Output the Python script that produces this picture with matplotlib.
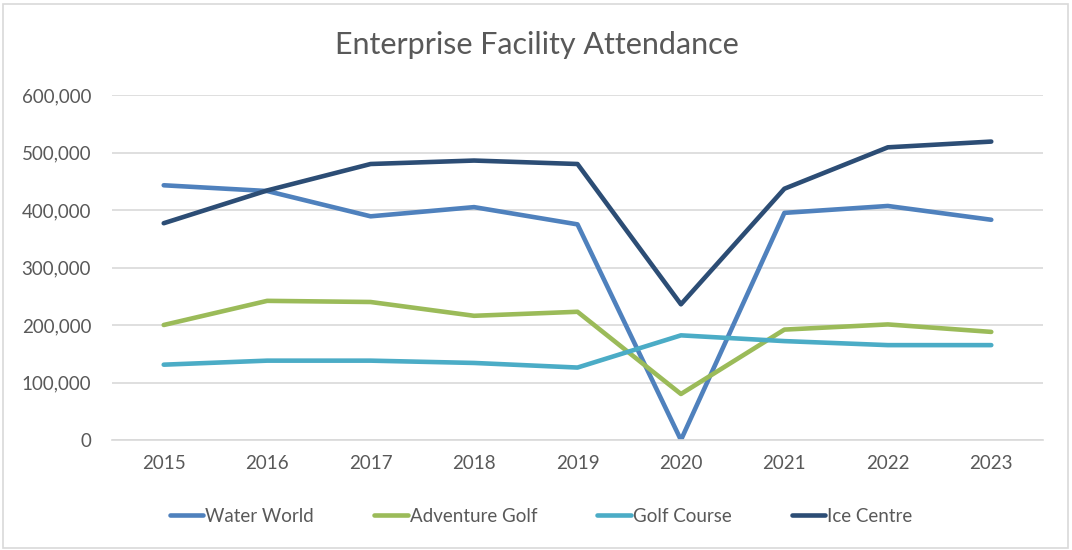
import matplotlib.pyplot as plt
from matplotlib.patches import Rectangle
from matplotlib.ticker import FuncFormatter

years = ['2015', '2016', '2017', '2018', '2019', '2020', '2021', '2022', '2023']
water_world = [443000, 433000, 389000, 405000, 375000, 0, 395000, 407000, 383000]
adventure_golf = [200000, 242000, 240000, 216000, 223000, 80000, 192000, 201000, 188000]
golf_course = [131000, 138000, 138000, 134000, 126000, 182000, 172000, 165000, 165000]
ice_centre = [377000, 434000, 480000, 486000, 480000, 236000, 437000, 509000, 519000]

series = [
    ('Water World', water_world, '#4F81BD'),
    ('Adventure Golf', adventure_golf, '#9BBB59'),
    ('Golf Course', golf_course, '#4BACC6'),
    ('Ice Centre', ice_centre, '#2C4D75'),
]

text_color = '#595959'
plt.rcParams['font.family'] = ['Lato', 'DejaVu Sans']

fig = plt.figure(figsize=(10.72, 5.5), dpi=100)
ax = fig.add_axes([112 / 1072, 1 - 440 / 550, 931 / 1072, 345 / 550])

# chart border
fig.patches.append(Rectangle((3 / 1072, 2 / 550), 1065 / 1072, 544 / 550,
                             transform=fig.transFigure, fill=False,
                             edgecolor='#D9D9D9', linewidth=1.2))

x = list(range(len(years)))
for name, values, color in series:
    ax.plot(x, values, color=color, linewidth=3.3, label=name,
            solid_capstyle='round', solid_joinstyle='round')

ax.set_xlim(-0.5, len(years) - 0.5)
ax.set_ylim(0, 600000)
ax.set_yticks(range(0, 600001, 100000))
ax.yaxis.set_major_formatter(FuncFormatter(lambda v, p: '{:,.0f}'.format(v)))
ax.set_xticks(x)
ax.set_xticklabels(years)

ax.grid(axis='y', color='#D9D9D9', linewidth=1.2)
ax.set_axisbelow(True)
for side in ['top', 'right', 'left']:
    ax.spines[side].set_visible(False)
ax.spines['bottom'].set_color('#D9D9D9')
ax.spines['bottom'].set_linewidth(1.2)
ax.tick_params(axis='both', length=0, labelsize=13.5, labelcolor=text_color)
ax.tick_params(axis='y', pad=15)
ax.tick_params(axis='x', pad=11)

fig.text(537 / 1072, 1 - 45 / 550, 'Enterprise Facility Attendance',
         ha='center', va='center', fontsize=22, color=text_color)

fig.legend(loc='center', bbox_to_anchor=(541 / 1072, 1 - 516 / 550), ncol=4,
           frameon=False, fontsize=13.5, labelcolor=text_color,
           handlelength=1.8, handletextpad=0.1, columnspacing=3.2)

fig.savefig('out.png', dpi=100)
